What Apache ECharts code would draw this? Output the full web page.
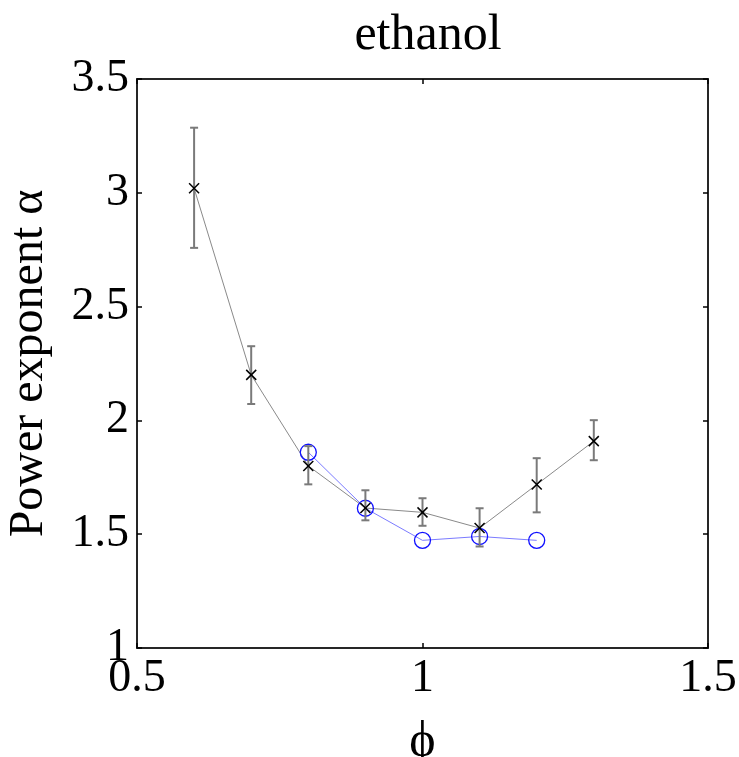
<!DOCTYPE html>
<html>
<head>
<meta charset="utf-8">
<script src="https://cdn.jsdelivr.net/npm/echarts@6/dist/echarts.min.js"></script>
<style>
    html, body { margin: 0; padding: 0; background: #fff; }
    #chart { width: 739px; height: 757px; }
</style>
</head>
<body>
<div id="chart"></div>
<script>
let phi_values = [0.6, 0.7, 0.8, 0.9, 1.0, 1.1, 1.2, 1.3];
let alpha_values = [3.02, 2.20, 1.80, 1.615, 1.596, 1.527, 1.718, 1.909];
let alpha_upper = [3.286, 2.326, 1.887, 1.693, 1.658, 1.614, 1.834, 2.001];
let alpha_lower = [2.758, 2.072, 1.719, 1.561, 1.537, 1.446, 1.596, 1.825];

let phi_fit = [0.8, 0.9, 1.0, 1.1, 1.2];
let alpha_fit = [1.860, 1.614, 1.473, 1.490, 1.473];

let x_ticks = [0.5, 1, 1.5];
let y_ticks = [1, 1.5, 2, 2.5, 3, 3.5];

let font = '"Liberation Serif", "DejaVu Serif", serif';
let echarts_alpha_graph = echarts.init(document.getElementById('chart'));

/* Error bars with a cross marker at the mean. */
function render_error_bar(params, api) {
    let x = api.value(0);
    let mid = api.coord([x, api.value(1)]);
    let low = api.coord([x, api.value(2)]);
    let high = api.coord([x, api.value(3)]);
    let cap = 4;
    let cross = 5;
    let bar_style = { stroke: '#7a7a7a', lineWidth: 2 };
    let cross_style = { stroke: '#000', lineWidth: 1.5 };
    return {
        type: 'group',
        children: [
            { type: 'line', shape: { x1: low[0], y1: low[1], x2: high[0], y2: high[1] }, style: bar_style },
            { type: 'line', shape: { x1: low[0] - cap, y1: low[1], x2: low[0] + cap, y2: low[1] }, style: bar_style },
            { type: 'line', shape: { x1: high[0] - cap, y1: high[1], x2: high[0] + cap, y2: high[1] }, style: bar_style },
            { type: 'line', shape: { x1: mid[0] - cross, y1: mid[1] - cross, x2: mid[0] + cross, y2: mid[1] + cross }, style: cross_style },
            { type: 'line', shape: { x1: mid[0] - cross, y1: mid[1] + cross, x2: mid[0] + cross, y2: mid[1] - cross }, style: cross_style }
        ]
    };
}

function value_axis(position, min, max, show_labels, extra) {
    let axis = {
        type: 'value',
        position: position,
        min: min,
        max: max,
        interval: 0.5,
        axisLine: { show: true, onZero: false, lineStyle: { color: '#262626', width: 2 } },
        axisTick: { show: true, inside: true, length: 5, lineStyle: { color: '#000', width: 1.5 } },
        axisLabel: {
            show: show_labels,
            color: '#000',
            fontFamily: font,
            fontSize: 46,
            formatter: function (v) { return String(v); }
        },
        splitLine: { show: false }
    };
    return Object.assign(axis, extra || {});
}

let echarts_options = {
    animation: false,
    backgroundColor: '#fff',
    title: {
        text: 'ethanol',
        left: 423,
        top: 6,
        textAlign: 'center',
        textStyle: { fontFamily: font, fontSize: 50, fontWeight: 'normal', color: '#000' }
    },
    grid: { left: 137, right: 31, top: 79, bottom: 109, containLabel: false, outerBoundsMode: 'none' },
    xAxis: [
        value_axis('bottom', x_ticks[0], x_ticks[x_ticks.length - 1], true, {
            name: 'ϕ',
            nameLocation: 'middle',
            nameGap: 70,
            nameTextStyle: { fontFamily: font, fontSize: 50, color: '#000' },
            axisLabel: { show: true, margin: 8, color: '#000', fontFamily: font, fontSize: 46 }
        }),
        value_axis('top', x_ticks[0], x_ticks[x_ticks.length - 1], false)
    ],
    yAxis: [
        value_axis('left', y_ticks[0], y_ticks[y_ticks.length - 1], true, {
            name: 'Power exponent α',
            nameLocation: 'middle',
            nameGap: 84,
            nameTextStyle: { fontFamily: font, fontSize: 48, color: '#000' },
            axisLabel: { show: true, margin: 8, color: '#000', fontFamily: font, fontSize: 46 }
        }),
        value_axis('right', y_ticks[0], y_ticks[y_ticks.length - 1], false)
    ],
    series: [
        {
            name: 'measured line',
            type: 'line',
            data: phi_values.map(function (x, i) { return [x, alpha_values[i]]; }),
            showSymbol: false,
            lineStyle: { color: '#8a8a8a', width: 1 },
            z: 2
        },
        {
            name: 'model',
            type: 'line',
            data: phi_fit.map(function (x, i) { return [x, alpha_fit[i]]; }),
            symbol: 'circle',
            symbolSize: 16,
            lineStyle: { color: '#7b7bff', width: 1 },
            itemStyle: { color: 'rgba(0,0,0,0)', borderColor: '#1010ff', borderWidth: 1.3 },
            z: 3
        },
        {
            name: 'measured',
            type: 'custom',
            renderItem: render_error_bar,
            data: phi_values.map(function (x, i) {
                return [x, alpha_values[i], alpha_lower[i], alpha_upper[i]];
            }),
            z: 4
        }
    ]
};

echarts_alpha_graph.setOption(echarts_options);
</script>
</body>
</html>
